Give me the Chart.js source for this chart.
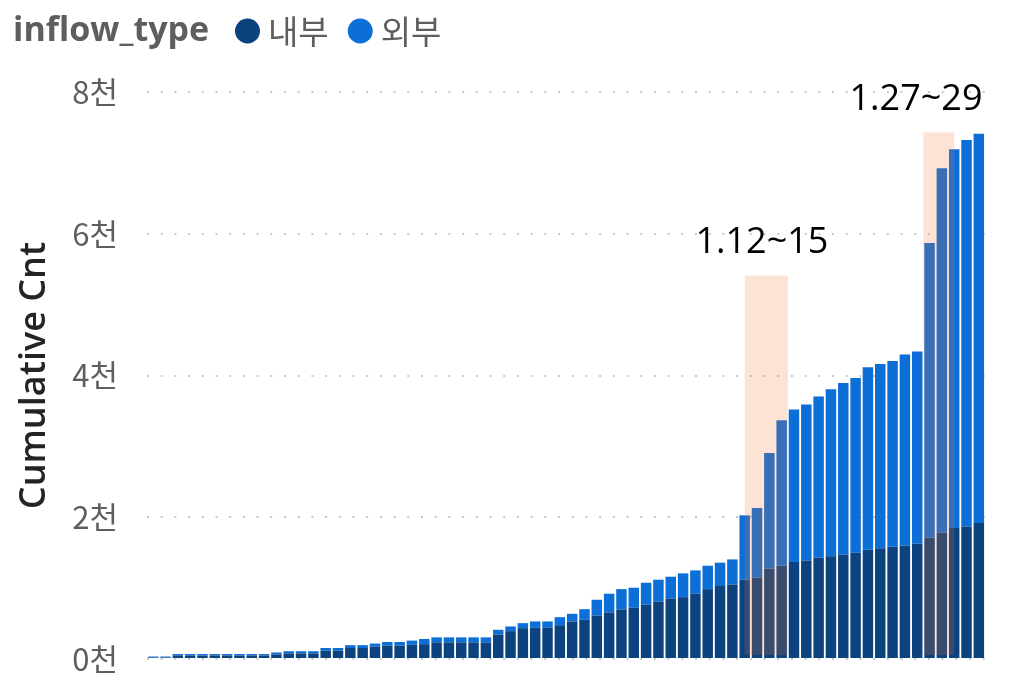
<!DOCTYPE html>
<html lang="ko">
<head>
<meta charset="UTF-8">
<title>Cumulative Cnt by inflow_type</title>
<script src="https://cdn.jsdelivr.net/npm/chart.js"></script>
<style>
  html, body { margin: 0; padding: 0; background: #fff; }
  #wrap { width: 1009px; height: 679px; }
</style>
</head>
<body>
<div id="wrap"><canvas id="chart" width="1009" height="679"></canvas></div>
<script>
// 날짜 (11.25 ~ 1.31)
const days = [
  '11.25','11.26','11.27','11.28','11.29','11.30',
  '12.1','12.2','12.3','12.4','12.5','12.6','12.7','12.8','12.9','12.10',
  '12.11','12.12','12.13','12.14','12.15','12.16','12.17','12.18','12.19','12.20',
  '12.21','12.22','12.23','12.24','12.25','12.26','12.27','12.28','12.29','12.30','12.31',
  '1.1','1.2','1.3','1.4','1.5','1.6','1.7','1.8','1.9','1.10',
  '1.11','1.12','1.13','1.14','1.15','1.16','1.17','1.18','1.19','1.20',
  '1.21','1.22','1.23','1.24','1.25','1.26','1.27','1.28','1.29','1.30','1.31'
];

// 누적 건수 (내부)
const internalCnt = [
  22, 22, 50, 50, 50, 50, 50, 50, 50, 50, 65, 80, 80, 80,
  120, 120, 155, 155, 175, 190, 190, 200, 210,
  235, 235, 235, 235, 235, 346, 393, 435, 440, 440, 477, 530, 554,
  614, 657, 699, 723, 766, 812, 855, 873, 921, 986, 1030, 1052,
  1119, 1147, 1274, 1316, 1367, 1391, 1429, 1448, 1476, 1500,
  1542, 1561, 1585, 1603, 1627, 1712, 1783, 1847, 1871, 1918
];

// 누적 건수 (합계)
const totalCnt = [
  35, 35, 70, 70, 70, 70, 70, 70, 70, 70, 92, 110, 110, 110,
  155, 155, 195, 195, 218, 240, 240, 260, 283,
  305, 305, 305, 305, 305, 412, 459, 506, 530, 530, 590, 638, 703,
  836, 921, 986, 1006, 1076, 1119, 1161, 1208, 1250, 1316, 1359, 1405,
  2027, 2130, 2907, 3369, 3520, 3590, 3703, 3807, 3895, 3966,
  4117, 4164, 4206, 4297, 4339, 5871, 6925, 7194, 7321, 7411
];

// 외부 = 합계 - 내부
const externalCnt = totalCnt.map((t, i) => t - internalCnt[i]);

// 강조 구간 (카테고리 인덱스 기준)
const highlightText = ['1.12~15', '1.27~29'];
const highlightFrom = [48, 62.5];
const highlightTo = [51.5, 65];
const highlightTop = [5410, 7430];
const labelAt = [49.4, 61.9];
const labelValue = [5875, 7895];

const yTicks = [0, 2000, 4000, 6000, 8000];

const overlayPlugin = {
  id: 'overlay',
  afterDatasetsDraw(chart) {
    const { ctx, scales: { x, y } } = chart;
    ctx.save();
    ctx.fillStyle = 'rgba(240, 115, 48, 0.2)';
    for (let i = 0; i < highlightText.length; i++) {
      const x0 = x.getPixelForValue(highlightFrom[i]);
      const x1 = x.getPixelForValue(highlightTo[i]);
      const y0 = y.getPixelForValue(highlightTop[i]);
      const y1 = y.getPixelForValue(0) - 4;
      ctx.fillRect(x0, y0, x1 - x0, y1 - y0);
    }
    ctx.fillStyle = '#000';
    ctx.font = '36px "Open Sans"';
    ctx.textAlign = 'center';
    ctx.textBaseline = 'middle';
    for (let i = 0; i < highlightText.length; i++) {
      ctx.fillText(highlightText[i], x.getPixelForValue(labelAt[i]), y.getPixelForValue(labelValue[i]));
    }
    ctx.restore();
  }
};

// 범례 (inflow_type ● 내부 ● 외부)
const legendPlugin = {
  id: 'customLegend',
  afterDraw(chart) {
    const ctx = chart.ctx;
    ctx.save();
    ctx.textBaseline = 'middle';
    ctx.textAlign = 'left';
    ctx.fillStyle = '#605E5C';
    ctx.font = 'bold 34px "Open Sans"';
    ctx.fillText('inflow_type', 13, 31);
    let xPos = 235;
    chart.data.datasets.forEach(ds => {
      ctx.fillStyle = ds.backgroundColor;
      ctx.beginPath();
      ctx.arc(xPos + 12.5, 31, 12.5, 0, Math.PI * 2);
      ctx.fill();
      ctx.fillStyle = '#605E5C';
      ctx.font = '33px "Noto Sans CJK KR"';
      ctx.fillText(ds.label, xPos + 33, 31);
      xPos += 33 + ctx.measureText(ds.label).width + 19;
    });
    ctx.restore();
  }
};

new Chart(document.getElementById('chart'), {
  type: 'bar',
  data: {
    labels: days,
    datasets: [
      { label: '내부', data: internalCnt, backgroundColor: '#0C437F' },
      { label: '외부', data: externalCnt, backgroundColor: '#0C6FD8' }
    ]
  },
  options: {
    responsive: false,
    animation: false,
    layout: { padding: { left: 0, top: 92, right: 24, bottom: 20 } },
    datasets: { bar: { categoryPercentage: 1, barPercentage: 0.85, borderWidth: 0 } },
    plugins: {
      legend: { display: false },
      tooltip: { enabled: false }
    },
    scales: {
      x: { stacked: true, display: false },
      y: {
        stacked: true,
        min: 0,
        max: 8000,
        afterBuildTicks: s => { s.ticks = yTicks.map(v => ({ value: v })); },
        afterFit: s => { s.width = 147; s.paddingTop = 0; s.paddingBottom = 0; },
        border: { display: false, dash: [2, 11.7] },
        grid: {
          color: '#C8C8C8',
          lineWidth: 2,
          drawTicks: false
        },
        ticks: {
          padding: 29,
          color: '#605E5C',
          font: { family: '"Noto Sans CJK KR"', size: 31 },
          callback: v => (v / 1000) + '천'
        },
        title: {
          display: true,
          text: 'Cumulative Cnt',
          color: '#252423',
          font: { family: '"Open Sans"', size: 36, weight: '600' },
          padding: { top: 13, bottom: 0 }
        }
      }
    }
  },
  plugins: [overlayPlugin, legendPlugin]
});
</script>
</body>
</html>
